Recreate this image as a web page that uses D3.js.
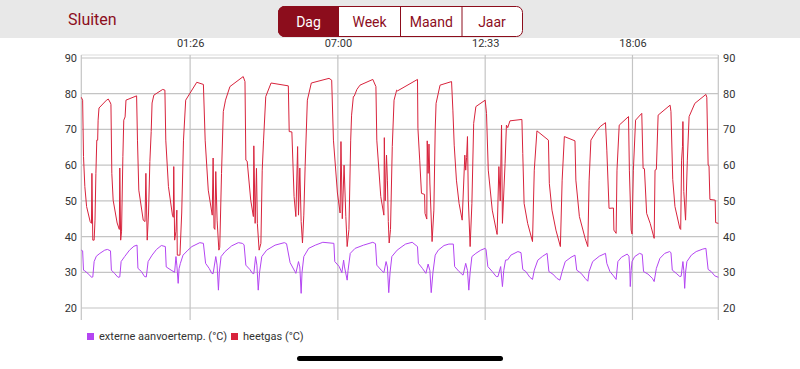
<!DOCTYPE html>
<html>
<head>
<meta charset="utf-8">
<script src="https://cdn.jsdelivr.net/npm/d3@7"></script>
<style>
html, body { margin: 0; padding: 0; background: #fff; }
svg { display: block; font-family: Roboto, "Liberation Sans", sans-serif; }
</style>
</head>
<body>
<svg id="chart" width="800" height="369"></svg>
<script>
// minutes since the window start (21:20 the previous evening)
var tickMinutes = [246, 580, 913, 1246];
var tickLabels = ["01:26", "07:00", "12:33", "18:06"];
var yTicks = [20, 30, 40, 50, 60, 70, 80, 90];
var periods = ["Dag", "Week", "Maand", "Jaar"];
var seriesNames = ["externe aanvoertemp. (°C)", "heetgas (°C)"];

var heetgasTime = [0, 3, 5, 8, 12, 20, 23, 24, 26, 29, 31, 33, 35, 37, 38, 40, 57, 61, 66, 67, 69, 72, 81, 86, 87, 89, 91, 94, 96, 99, 101,
  125, 127, 130, 140, 144, 146, 149, 152, 155, 158, 160, 164, 184, 189, 191, 197, 206, 208, 209, 211, 214, 216, 217, 223, 227, 231, 236,
  261, 276, 280, 287, 296, 298, 300, 302, 304, 307, 311, 313, 317, 321, 326, 336, 366, 370, 372, 375, 383, 389, 390, 393, 396, 398, 402,
  406, 409, 412, 417, 429, 468, 470, 476, 481, 485, 489, 491, 494, 497, 500, 503, 506, 511, 520, 560, 566, 570, 579, 585, 587, 590, 594,
  598, 601, 605, 609, 611, 615, 617, 623, 630, 659, 666, 668, 677, 684, 685, 687, 690, 692, 694, 696, 699, 703, 707, 711, 713, 715, 760,
  761, 765, 769, 776, 777, 781, 782, 784, 786, 788, 793, 797, 800, 802, 811, 837, 840, 843, 848, 854, 861, 867, 869, 871, 873, 875, 879,
  883, 887, 892, 913, 916, 920, 929, 938, 940, 944, 947, 950, 952, 958, 961, 964, 969, 996, 998, 1001, 1009, 1020, 1024, 1030, 1056, 1058,
  1064, 1073, 1083, 1087, 1092, 1116, 1118, 1126, 1139, 1145, 1148, 1152, 1164, 1173, 1185, 1188, 1193, 1203, 1204, 1209, 1211, 1216,
  1237, 1239, 1243, 1245, 1248, 1253, 1267, 1270, 1273, 1278, 1286, 1295, 1297, 1300, 1304, 1331, 1333, 1337, 1342, 1353, 1355, 1357,
  1359, 1360, 1362, 1366, 1370, 1374, 1387, 1412, 1414, 1417, 1419, 1421, 1433, 1434, 1440];
var heetgasTemp = [79, 78.2, 62.4, 54, 48.4, 44.2, 43.7, 57.7, 39, 39, 44.6, 57.7, 67, 67, 72.6, 76, 78.2, 78.5, 77.4, 77, 57.7, 50.2, 43.8, 42, 59.2, 39, 41.5, 62.4, 72.6, 73.5, 78.2,
  79.4, 67, 53, 44.6, 44.2, 57.7, 39, 46.6, 61, 69.4, 77.4, 79.6, 81.2, 81, 67, 54, 46, 45.4, 59.6, 39, 41.5, 47.4, 34.8, 34.8, 46.6, 67, 78.2,
  83.2, 82.6, 67, 53, 46, 62, 42.4, 42, 58.2, 44.6, 36.2, 37, 57.7, 75, 78.2, 82, 84.8, 83.4, 61.4, 61.1, 50.2, 45.6, 65.4, 43.7, 59.1, 43.7, 36.2,
  38.1, 58.6, 67, 79.2, 83, 82.2, 69.4, 69.3, 51.2, 45.6, 65.2, 46, 59.2, 44.2, 38.2, 46, 59.6, 78.2, 83, 84.3, 83.8, 67, 52.2, 46.6, 66.6, 45, 60,
  45.6, 37.2, 42, 67, 74, 79.2, 79.3, 81.2, 82.4, 84, 82, 67, 51.2, 46, 67.7, 50, 62.8, 55.8, 44.2, 38.2, 42, 65.2, 78.2, 80.1, 81, 80.8, 84,
  70.3, 61.4, 52.1, 51.8, 46.5, 44.9, 66.8, 57.7, 65.9, 55, 38.6, 47.4, 69.8, 77.3, 82.4, 83.4, 75.4, 65.6, 55.8, 49.3, 44.6, 62.8, 58.6, 62.2, 68, 50, 37.2,
  49.3, 71.7, 76.4, 78.2, 74.5, 58.6, 47.4, 41.8, 40.6, 59.6, 50, 71.2, 43.7, 60.5, 71.2, 70.5, 72.4, 72.8, 63.3, 49.3, 43.7, 38.6, 58.6, 69.6, 67, 54.9,
  47.4, 41.8, 37.2, 55.8, 68, 66.8, 55.8, 45.6, 39.5, 37.2, 55.8, 67, 69.4, 70.8, 71.9, 64.2, 47.9, 48, 41.8, 40.9, 58.6, 71.2,
  73.6, 58.6, 41.8, 40.7, 58.6, 72.6, 74.5, 59.1, 59, 46.5, 43.7, 39.5, 58.6, 58.8, 74, 76.8, 75, 56, 48.4, 42.3, 42, 61.4,
  65.2, 72.2, 52.6, 44.6, 61.4, 73.6, 77.3, 79.8, 79, 60, 59.8, 50.4, 50.2, 43.9, 43.7];

var aanvoerTime = [0, 3, 5, 8, 19, 23, 26, 29, 34, 42, 53, 59, 66, 68, 75, 83, 87, 90, 98, 109, 119, 126, 128, 136, 143, 147, 151, 160,
  170, 181, 190, 192, 203, 211, 214, 216, 219, 221, 224, 230, 241, 250, 268, 276, 281, 289, 295, 298, 304, 307, 310, 312, 316, 325, 340,
  355, 364, 368, 372, 381, 387, 390, 394, 397, 400, 403, 408, 419, 438, 459, 464, 472, 483, 485, 491, 494, 497, 499, 503, 514, 529, 546,
  571, 573, 583, 589, 593, 595, 601, 603, 608, 619, 638, 659, 665, 668, 678, 684, 689, 692, 695, 698, 702, 714, 725, 733, 748, 760, 762,
  771, 779, 784, 788, 791, 795, 800, 807, 820, 831, 841, 844, 854, 863, 869, 873, 876, 879, 883, 892, 903, 913, 915, 919, 929, 938, 942,
  948, 952, 955, 959, 964, 971, 987, 994, 998, 1005, 1014, 1020, 1024, 1032, 1043, 1053, 1057, 1066, 1075, 1082, 1087, 1094, 1107, 1116,
  1120, 1130, 1139, 1145, 1148, 1156, 1171, 1185, 1188, 1195, 1203, 1209, 1213, 1221, 1234, 1238, 1240, 1241, 1243, 1245, 1251, 1262,
  1268, 1271, 1281, 1291, 1295, 1300, 1308, 1319, 1330, 1333, 1336, 1345, 1353, 1356, 1360, 1362, 1364, 1366, 1369, 1379, 1390, 1405,
  1412, 1417, 1424, 1432, 1440];
var aanvoerTemp = [36.2, 36, 30.6, 30.4, 29.2, 28.6, 28.7, 33, 34.5, 35.3, 36.2, 36.4, 36, 30.6, 29.7, 28.6, 28.7, 33, 34.4, 36.2, 37.3, 37.6, 31.1, 30.2, 28.8, 28.7, 33, 34.8,
  36.4, 37.5, 37.2, 31.5, 30.6, 30, 34.4, 32, 26.9, 31, 32.5, 34.8, 36.2, 37.2, 38.3, 38.1, 32.5, 31.1, 29.7, 29.6, 34.4, 32, 25, 30, 34.4, 35.8, 37.4,
  38.3, 38.1, 37.7, 32, 30.8, 29.7, 29.6, 34.4, 32, 25, 30, 34.4, 36.2, 37.6, 38.3, 38, 32.7, 30.2, 29.7, 33, 31.5, 24.1, 30, 34.4, 36.7, 37.6, 38.4,
  38.1, 33, 31.6, 29.9, 33.4, 31.5, 27.8, 30.5, 35.3, 36.7, 37.6, 38.4, 38, 32, 30.6, 29.9, 33, 31.5, 24.3, 30, 34.4, 36.2, 37.2, 37.9, 38.4, 37.2, 32.5,
  31.1, 29.7, 32.3, 30.5, 24.3, 30, 34.8, 36.2, 37.5, 37.9, 37.9, 31.6, 30.2, 29.2, 32.5, 30.5, 25, 30, 34.4, 35.3, 36.2, 36.7, 36.3, 31.6, 30.2, 28.8, 28.8,
  31.6, 26, 30.5, 33.4, 33.5, 34.8, 35.8, 35.5, 30.8, 30.2, 28.6, 28, 30.6, 33.4, 34.5, 35.3, 30.2, 29.5, 28.3, 27.8, 30.2, 33, 34.2, 34.8,
  30.6, 29.7, 28.3, 27.5, 30.2, 33, 34.5, 35.3, 32.5, 30.2, 29, 28, 33, 34.2, 35.1, 34.5, 30.6, 26, 30.5, 33, 34.4, 35.3,
  35, 30.2, 29.5, 28.3, 27.4, 31.1, 33.9, 35.3, 35.8, 35.5, 30.6, 29.7, 28.8, 28.9, 33, 30.5, 25.5, 30, 33, 34.8, 35.8, 36.5,
  36.7, 30.8, 30.2, 29, 28.6];

var colors = ["#b445f2", "#d8233c"];
var darkRed = "#8c0d1c";

var svg = d3.select("#chart");
var start = new Date(2024, 0, 1, 21, 20);
function toDate(m) { return d3.timeMinute.offset(start, m); }

var x = d3.scaleTime().domain([toDate(0), toDate(1440)]).range([81.3, 718.3]);
var y = d3.scaleLinear().domain([20, 90]).range([308, 58]);
var plotTop = 55, plotBottom = 320;

// header bar
svg.append("rect").attr("x", 0).attr("y", 0).attr("width", 800).attr("height", 38).attr("fill", "#e8e8e8");
svg.append("text").attr("x", 68).attr("y", 25).attr("font-size", 16).attr("fill", darkRed).text("Sluiten");

var seg = svg.append("g");
var segX = d3.scaleOrdinal().domain(periods).range([278.5, 338.5, 400.5, 462]);
var segW = [60, 62, 61.5, 60];
seg.append("rect").attr("x", 278.5).attr("y", 6.5).attr("width", 244).attr("height", 30).attr("rx", 6)
  .attr("fill", "#fff").attr("stroke", darkRed).attr("stroke-width", 1);
seg.append("path")
  .attr("d", "M338.5,6.5 H284.5 A6,6 0 0 0 278.5,12.5 V30.5 A6,6 0 0 0 284.5,36.5 H338.5 Z")
  .attr("fill", darkRed).attr("stroke", darkRed);
[338.5, 400.5, 462].forEach(function (d) {
  seg.append("line").attr("x1", d).attr("x2", d).attr("y1", 6.5).attr("y2", 36.5).attr("stroke", darkRed);
});
periods.forEach(function (p, i) {
  seg.append("text").attr("x", segX(p) + segW[i] / 2).attr("y", 27).attr("text-anchor", "middle")
    .attr("font-size", 14).attr("fill", i === 0 ? "#fff" : darkRed).text(p);
});

// grid
var grid = svg.append("g").attr("stroke", "#c4c4c4").attr("stroke-width", 1.2);
grid.selectAll("line.h").data(yTicks).enter().append("line")
  .attr("x1", 81.3).attr("x2", 718.3)
  .attr("y1", function (d) { return y(d); }).attr("y2", function (d) { return y(d); });
grid.append("line").attr("x1", 81.3).attr("x2", 718.3).attr("y1", plotTop).attr("y2", plotTop).attr("stroke", "#dcdcdc");
grid.selectAll("line.v").data(tickMinutes).enter().append("line")
  .attr("x1", function (d) { return x(toDate(d)); }).attr("x2", function (d) { return x(toDate(d)); })
  .attr("y1", plotTop).attr("y2", plotBottom);
[81.3, 718.3].forEach(function (d) {
  grid.append("line").attr("x1", d).attr("x2", d).attr("y1", plotTop).attr("y2", plotBottom);
});

// axes
var xAxis = d3.axisTop(x).tickValues(tickMinutes.map(toDate)).tickSize(0)
  .tickFormat(function (d, i) { return tickLabels[i]; });
var gx = svg.append("g").attr("transform", "translate(0,50)").call(xAxis);
gx.select(".domain").remove();
gx.selectAll("text").attr("font-size", 11).attr("fill", "#333").attr("font-family", "Roboto, sans-serif");

var gl = svg.append("g").attr("transform", "translate(77,0)").call(d3.axisLeft(y).tickValues(yTicks).tickSize(0).tickPadding(0));
var gr = svg.append("g").attr("transform", "translate(723,0)").call(d3.axisRight(y).tickValues(yTicks).tickSize(0).tickPadding(0));
[gl, gr].forEach(function (g) {
  g.select(".domain").remove();
  g.selectAll("text").attr("font-size", 11).attr("fill", "#333").attr("font-family", "Roboto, sans-serif");
});

// lines
var line = d3.line()
  .x(function (d) { return x(toDate(d[0])); })
  .y(function (d) { return y(d[1]); });
var aanvoer = d3.zip(aanvoerTime, aanvoerTemp);
var heetgas = d3.zip(heetgasTime, heetgasTemp);
svg.append("path").datum(aanvoer).attr("d", line).attr("fill", "none")
  .attr("stroke", colors[0]).attr("stroke-width", 1).attr("stroke-linejoin", "round");
svg.append("path").datum(heetgas).attr("d", line).attr("fill", "none")
  .attr("stroke", colors[1]).attr("stroke-width", 1).attr("stroke-linejoin", "round");

// legend
var legX = [87, 231];
seriesNames.forEach(function (n, i) {
  svg.append("rect").attr("x", legX[i]).attr("y", 333).attr("width", 7).attr("height", 7).attr("fill", colors[i]);
  svg.append("text").attr("x", legX[i] + 12).attr("y", 340).attr("font-size", 11).attr("fill", "#333").text(n);
});

// home indicator
svg.append("rect").attr("x", 297).attr("y", 356).attr("width", 206).attr("height", 5).attr("rx", 2.5).attr("fill", "#000");
</script>
</body>
</html>
